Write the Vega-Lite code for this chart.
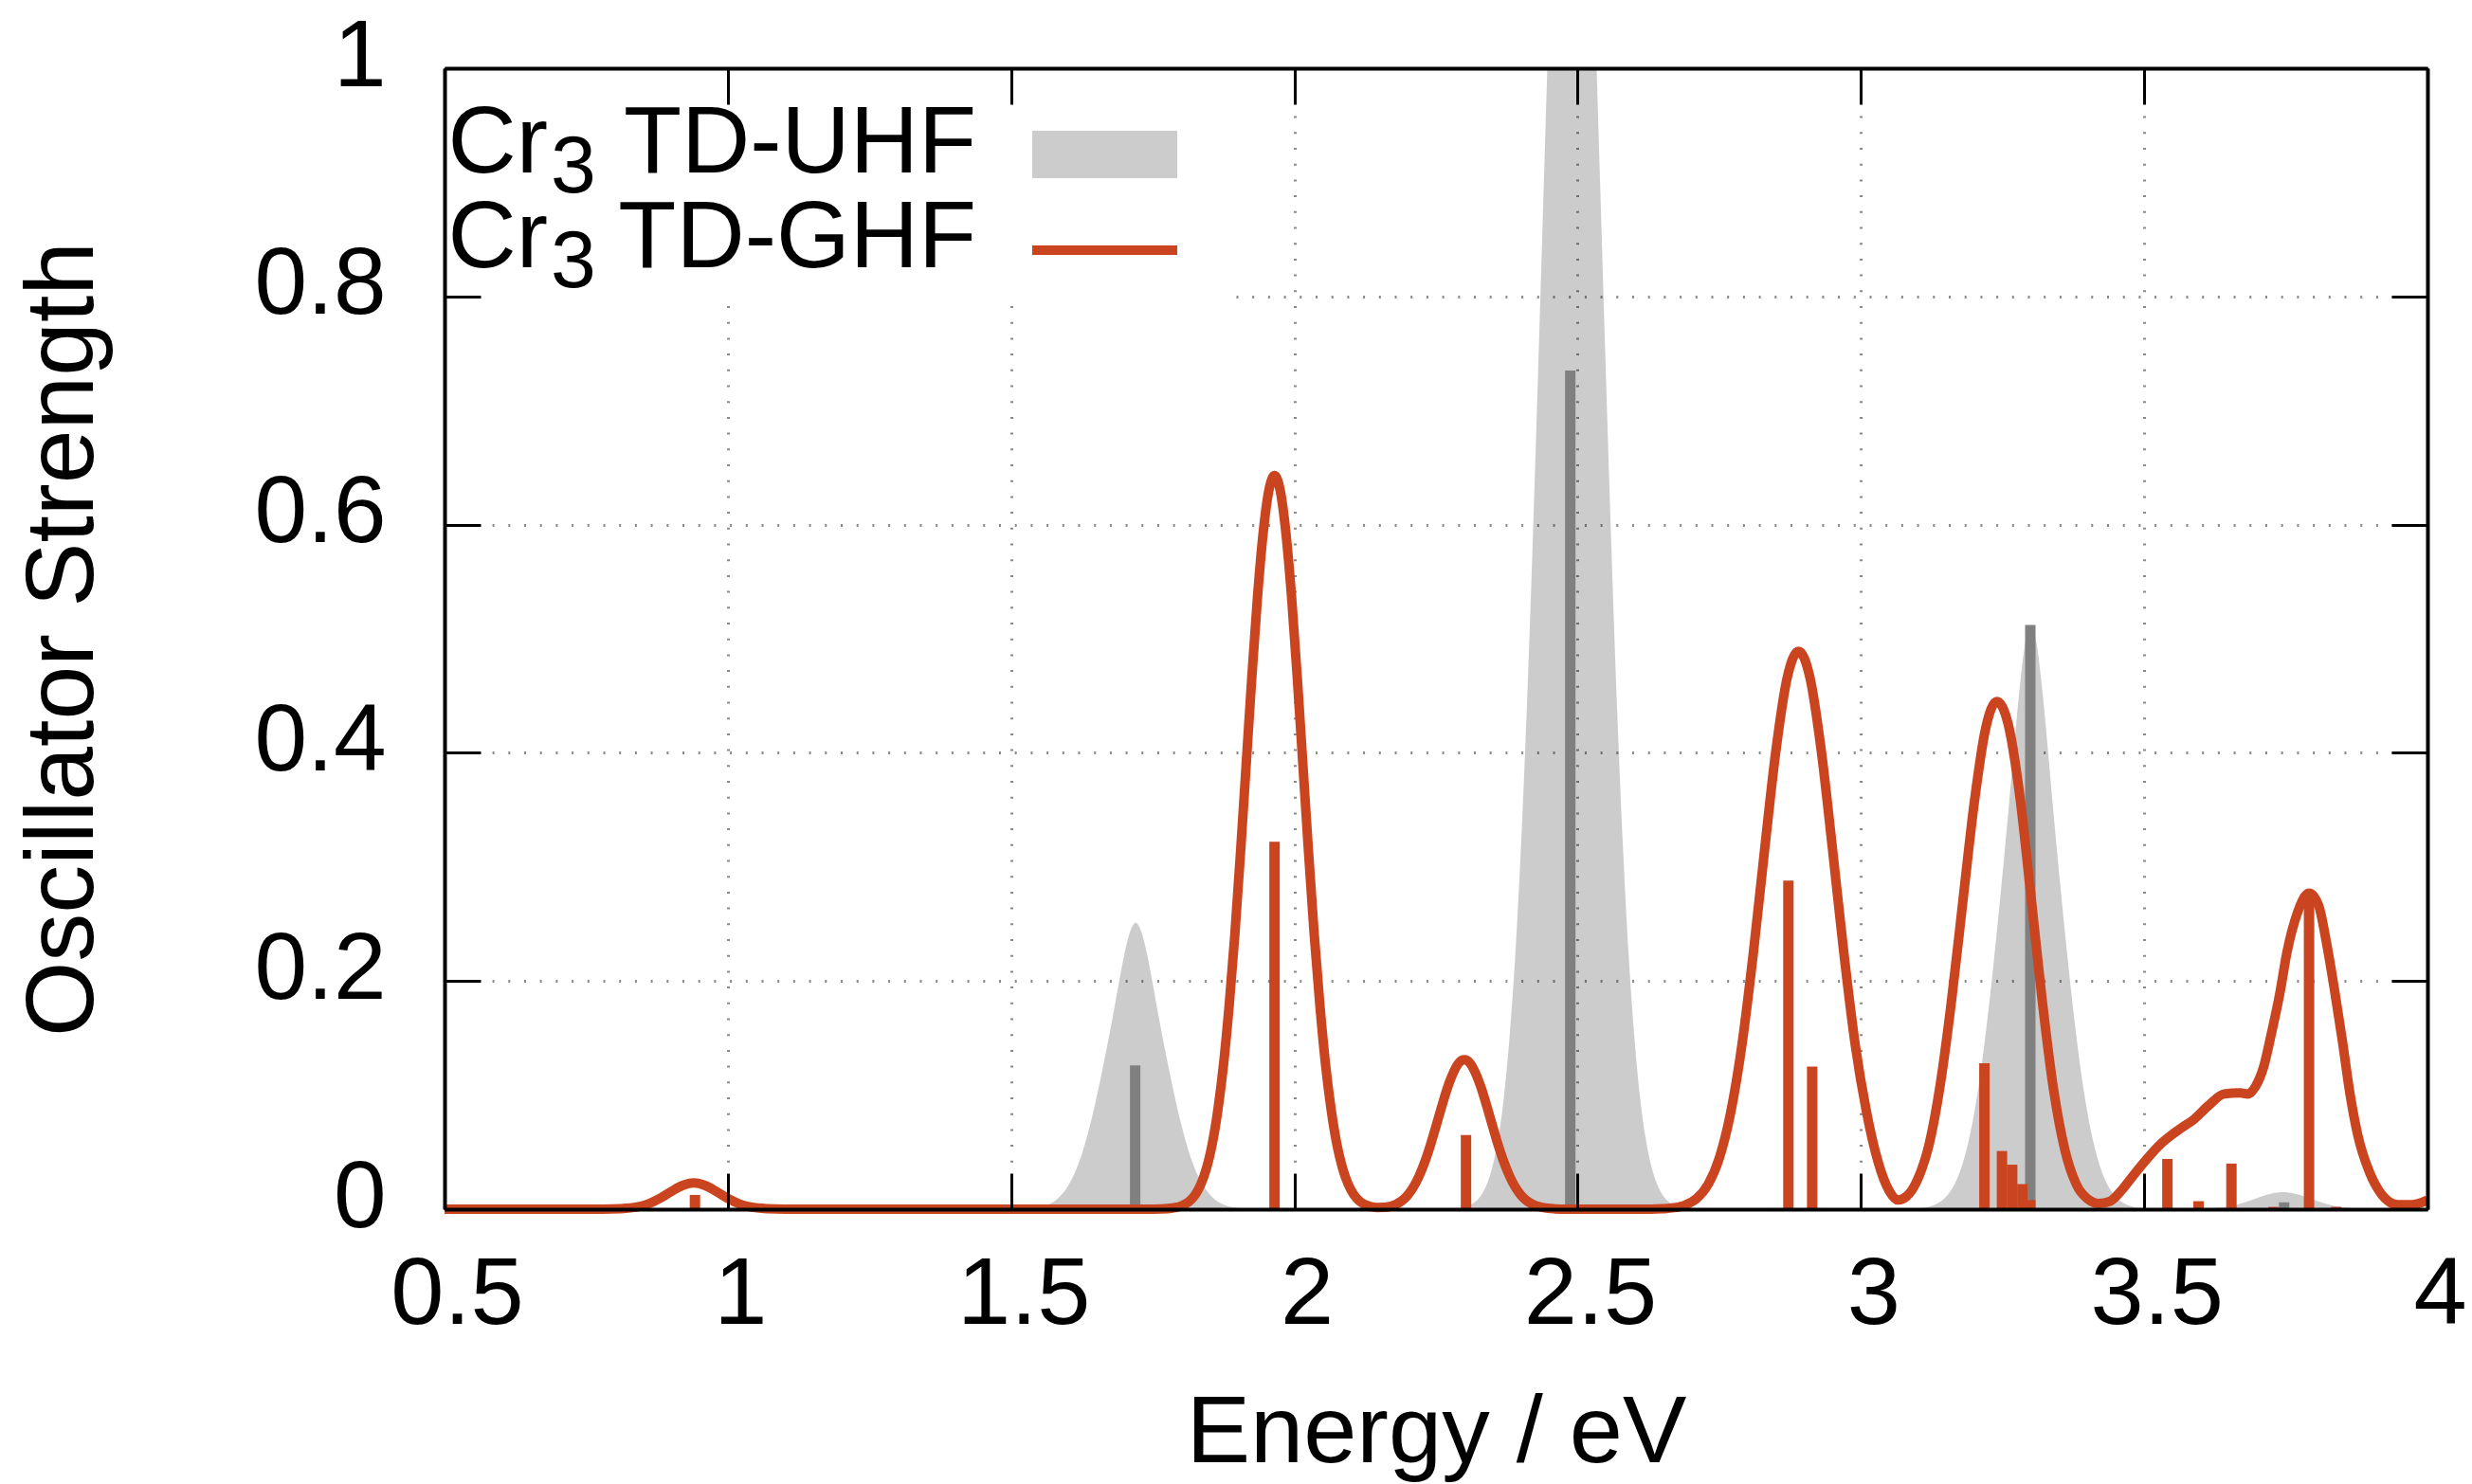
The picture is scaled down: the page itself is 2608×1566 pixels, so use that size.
{
  "$schema": "https://vega.github.io/schema/vega-lite/v6.json",
  "width": 2092,
  "height": 1204,
  "autosize": {"type": "none"},
  "padding": {"left": 469, "top": 72, "right": 47, "bottom": 290},
  "background": "white",
  "config": {"font": "Liberation Sans", "view": {"stroke": null}},
  "datasets": {
    "uhf": [
      {"energy": 0.5, "f": 0}, {"energy": 1.5, "f": 0}, {"energy": 1.52, "f": 0.0003}, {"energy": 1.54, "f": 0.001},
      {"energy": 1.55, "f": 0.0018}, {"energy": 1.56, "f": 0.0031}, {"energy": 1.57, "f": 0.0052}, {"energy": 1.58, "f": 0.0084},
      {"energy": 1.59, "f": 0.0132}, {"energy": 1.6, "f": 0.02}, {"energy": 1.61, "f": 0.0292}, {"energy": 1.62, "f": 0.0413},
      {"energy": 1.63, "f": 0.0565}, {"energy": 1.64, "f": 0.0749}, {"energy": 1.65, "f": 0.0961}, {"energy": 1.66, "f": 0.1194},
      {"energy": 1.67, "f": 0.1441}, {"energy": 1.68, "f": 0.1701}, {"energy": 1.69, "f": 0.1976}, {"energy": 1.7, "f": 0.2235},
      {"energy": 1.71, "f": 0.2431}, {"energy": 1.72, "f": 0.251}, {"energy": 1.73, "f": 0.2431}, {"energy": 1.74, "f": 0.2235},
      {"energy": 1.75, "f": 0.1976}, {"energy": 1.76, "f": 0.1701}, {"energy": 1.77, "f": 0.1441}, {"energy": 1.78, "f": 0.1194},
      {"energy": 1.79, "f": 0.0961}, {"energy": 1.8, "f": 0.0749}, {"energy": 1.81, "f": 0.0565}, {"energy": 1.82, "f": 0.0413},
      {"energy": 1.83, "f": 0.0292}, {"energy": 1.84, "f": 0.02}, {"energy": 1.85, "f": 0.0132}, {"energy": 1.86, "f": 0.0084},
      {"energy": 1.87, "f": 0.0052}, {"energy": 1.88, "f": 0.0031}, {"energy": 1.89, "f": 0.0018}, {"energy": 1.9, "f": 0.001},
      {"energy": 1.92, "f": 0.0003}, {"energy": 1.94, "f": 0},
      {"energy": 2.25, "f": 0}, {"energy": 2.27, "f": 0.0002}, {"energy": 2.29, "f": 0.0009}, {"energy": 2.31, "f": 0.0036},
      {"energy": 2.32, "f": 0.0068}, {"energy": 2.33, "f": 0.0125}, {"energy": 2.34, "f": 0.0222}, {"energy": 2.35, "f": 0.0379},
      {"energy": 2.36, "f": 0.0624}, {"energy": 2.37, "f": 0.0991}, {"energy": 2.38, "f": 0.152}, {"energy": 2.39, "f": 0.2235},
      {"energy": 2.4, "f": 0.318}, {"energy": 2.41, "f": 0.435}, {"energy": 2.42, "f": 0.574}, {"energy": 2.43, "f": 0.73},
      {"energy": 2.44, "f": 0.894}, {"energy": 2.45, "f": 1.056}, {"energy": 2.46, "f": 1.202}, {"energy": 2.47, "f": 1.319},
      {"energy": 2.48, "f": 1.394}, {"energy": 2.49, "f": 1.42}, {"energy": 2.5, "f": 1.394}, {"energy": 2.51, "f": 1.319},
      {"energy": 2.52, "f": 1.202}, {"energy": 2.53, "f": 1.056}, {"energy": 2.54, "f": 0.894}, {"energy": 2.55, "f": 0.73},
      {"energy": 2.56, "f": 0.574}, {"energy": 2.57, "f": 0.435}, {"energy": 2.58, "f": 0.318}, {"energy": 2.59, "f": 0.2235},
      {"energy": 2.6, "f": 0.152}, {"energy": 2.61, "f": 0.0991}, {"energy": 2.62, "f": 0.0624}, {"energy": 2.63, "f": 0.0379},
      {"energy": 2.64, "f": 0.0222}, {"energy": 2.65, "f": 0.0125}, {"energy": 2.66, "f": 0.0068}, {"energy": 2.67, "f": 0.0036},
      {"energy": 2.69, "f": 0.0009}, {"energy": 2.71, "f": 0.0002}, {"energy": 2.73, "f": 0},
      {"energy": 3.06, "f": 0}, {"energy": 3.08, "f": 0.0002}, {"energy": 3.1, "f": 0.0006}, {"energy": 3.12, "f": 0.0021},
      {"energy": 3.13, "f": 0.0037}, {"energy": 3.14, "f": 0.0064}, {"energy": 3.15, "f": 0.0107}, {"energy": 3.16, "f": 0.0172},
      {"energy": 3.17, "f": 0.0269}, {"energy": 3.18, "f": 0.0407}, {"energy": 3.19, "f": 0.0595}, {"energy": 3.2, "f": 0.0843},
      {"energy": 3.21, "f": 0.1153}, {"energy": 3.22, "f": 0.1528}, {"energy": 3.23, "f": 0.196}, {"energy": 3.24, "f": 0.2435},
      {"energy": 3.25, "f": 0.294}, {"energy": 3.26, "f": 0.347}, {"energy": 3.27, "f": 0.403}, {"energy": 3.28, "f": 0.456},
      {"energy": 3.29, "f": 0.496}, {"energy": 3.3, "f": 0.512}, {"energy": 3.31, "f": 0.496}, {"energy": 3.32, "f": 0.456},
      {"energy": 3.33, "f": 0.403}, {"energy": 3.34, "f": 0.347}, {"energy": 3.35, "f": 0.294}, {"energy": 3.36, "f": 0.2435},
      {"energy": 3.37, "f": 0.196}, {"energy": 3.38, "f": 0.1528}, {"energy": 3.39, "f": 0.1153}, {"energy": 3.4, "f": 0.0843},
      {"energy": 3.41, "f": 0.0595}, {"energy": 3.42, "f": 0.0407}, {"energy": 3.43, "f": 0.0269}, {"energy": 3.44, "f": 0.0172},
      {"energy": 3.45, "f": 0.0107}, {"energy": 3.46, "f": 0.0064}, {"energy": 3.47, "f": 0.0037}, {"energy": 3.48, "f": 0.0021},
      {"energy": 3.5, "f": 0.0006}, {"energy": 3.52, "f": 0.0002}, {"energy": 3.54, "f": 0},
      {"energy": 3.58, "f": 0}, {"energy": 3.595, "f": 0.0002}, {"energy": 3.625, "f": 0.0008},
      {"energy": 3.645, "f": 0.002}, {"energy": 3.665, "f": 0.0042}, {"energy": 3.685, "f": 0.0073}, {"energy": 3.705, "f": 0.0109},
      {"energy": 3.725, "f": 0.0138}, {"energy": 3.745, "f": 0.015}, {"energy": 3.765, "f": 0.0138}, {"energy": 3.785, "f": 0.0109},
      {"energy": 3.805, "f": 0.0073}, {"energy": 3.825, "f": 0.0042}, {"energy": 3.845, "f": 0.002}, {"energy": 3.865, "f": 0.0008},
      {"energy": 3.895, "f": 0.0002}, {"energy": 3.92, "f": 0}, {"energy": 4.0, "f": 0}
    ],
    "ghf": [
      {"energy": 0.5, "f": 0}, {"energy": 0.78, "f": 0}, {"energy": 0.81, "f": 0.0004}, {"energy": 0.84, "f": 0.0019},
      {"energy": 0.86, "f": 0.0047}, {"energy": 0.88, "f": 0.0095}, {"energy": 0.9, "f": 0.0155}, {"energy": 0.92, "f": 0.0208},
      {"energy": 0.94, "f": 0.023}, {"energy": 0.96, "f": 0.0208}, {"energy": 0.98, "f": 0.0155}, {"energy": 1.0, "f": 0.0095},
      {"energy": 1.02, "f": 0.0047}, {"energy": 1.04, "f": 0.0019}, {"energy": 1.07, "f": 0.0004}, {"energy": 1.1, "f": 0},
      {"energy": 1.74, "f": 0}, {"energy": 1.765, "f": 0.0002}, {"energy": 1.785, "f": 0.001}, {"energy": 1.805, "f": 0.0039},
      {"energy": 1.815, "f": 0.0071}, {"energy": 1.825, "f": 0.0127}, {"energy": 1.835, "f": 0.0219}, {"energy": 1.845, "f": 0.036},
      {"energy": 1.855, "f": 0.057}, {"energy": 1.865, "f": 0.087}, {"energy": 1.875, "f": 0.127}, {"energy": 1.885, "f": 0.179},
      {"energy": 1.895, "f": 0.241}, {"energy": 1.905, "f": 0.313}, {"energy": 1.915, "f": 0.39}, {"energy": 1.925, "f": 0.467},
      {"energy": 1.935, "f": 0.537}, {"energy": 1.945, "f": 0.593}, {"energy": 1.955, "f": 0.63}, {"energy": 1.965, "f": 0.643},
      {"energy": 1.975, "f": 0.63}, {"energy": 1.985, "f": 0.593}, {"energy": 1.995, "f": 0.537}, {"energy": 2.005, "f": 0.467},
      {"energy": 2.015, "f": 0.39}, {"energy": 2.025, "f": 0.313}, {"energy": 2.035, "f": 0.241}, {"energy": 2.045, "f": 0.179},
      {"energy": 2.055, "f": 0.127}, {"energy": 2.065, "f": 0.087}, {"energy": 2.075, "f": 0.057}, {"energy": 2.085, "f": 0.036},
      {"energy": 2.095, "f": 0.0219}, {"energy": 2.105, "f": 0.0127}, {"energy": 2.115, "f": 0.0071}, {"energy": 2.125, "f": 0.004},
      {"energy": 2.145, "f": 0.0015}, {"energy": 2.16, "f": 0.0016}, {"energy": 2.18, "f": 0.0044}, {"energy": 2.19, "f": 0.0075},
      {"energy": 2.2, "f": 0.0123}, {"energy": 2.21, "f": 0.0193}, {"energy": 2.22, "f": 0.0289}, {"energy": 2.23, "f": 0.0411},
      {"energy": 2.24, "f": 0.0559}, {"energy": 2.25, "f": 0.0726}, {"energy": 2.26, "f": 0.0898}, {"energy": 2.27, "f": 0.106},
      {"energy": 2.28, "f": 0.119}, {"energy": 2.29, "f": 0.128}, {"energy": 2.3, "f": 0.131}, {"energy": 2.31, "f": 0.128},
      {"energy": 2.32, "f": 0.119}, {"energy": 2.33, "f": 0.106}, {"energy": 2.34, "f": 0.0898}, {"energy": 2.35, "f": 0.0726},
      {"energy": 2.36, "f": 0.0559}, {"energy": 2.37, "f": 0.0411}, {"energy": 2.38, "f": 0.0289}, {"energy": 2.39, "f": 0.0193},
      {"energy": 2.4, "f": 0.0123}, {"energy": 2.41, "f": 0.0075}, {"energy": 2.42, "f": 0.0044}, {"energy": 2.44, "f": 0.0013},
      {"energy": 2.46, "f": 0.0003}, {"energy": 2.48, "f": 0}, {"energy": 2.63, "f": 0}, {"energy": 2.65, "f": 0.0004},
      {"energy": 2.67, "f": 0.0013}, {"energy": 2.69, "f": 0.0037}, {"energy": 2.71, "f": 0.0094}, {"energy": 2.73, "f": 0.0215},
      {"energy": 2.75, "f": 0.0447}, {"energy": 2.77, "f": 0.0843}, {"energy": 2.79, "f": 0.144}, {"energy": 2.81, "f": 0.224},
      {"energy": 2.83, "f": 0.315}, {"energy": 2.85, "f": 0.402}, {"energy": 2.87, "f": 0.466}, {"energy": 2.89, "f": 0.489},
      {"energy": 2.91, "f": 0.466}, {"energy": 2.93, "f": 0.402}, {"energy": 2.95, "f": 0.315}, {"energy": 2.97, "f": 0.224},
      {"energy": 2.99, "f": 0.144}, {"energy": 3.01, "f": 0.085}, {"energy": 3.03, "f": 0.042}, {"energy": 3.05, "f": 0.016},
      {"energy": 3.065, "f": 0.008}, {"energy": 3.08, "f": 0.011}, {"energy": 3.1, "f": 0.026}, {"energy": 3.12, "f": 0.056},
      {"energy": 3.14, "f": 0.109}, {"energy": 3.16, "f": 0.183}, {"energy": 3.18, "f": 0.27}, {"energy": 3.2, "f": 0.356},
      {"energy": 3.22, "f": 0.421}, {"energy": 3.24, "f": 0.445}, {"energy": 3.26, "f": 0.425}, {"energy": 3.28, "f": 0.364},
      {"energy": 3.3, "f": 0.275}, {"energy": 3.32, "f": 0.183}, {"energy": 3.34, "f": 0.105}, {"energy": 3.36, "f": 0.052},
      {"energy": 3.38, "f": 0.022}, {"energy": 3.4, "f": 0.009}, {"energy": 3.42, "f": 0.005}, {"energy": 3.44, "f": 0.007},
      {"energy": 3.461, "f": 0.017}, {"energy": 3.48, "f": 0.029}, {"energy": 3.503, "f": 0.043}, {"energy": 3.531, "f": 0.058},
      {"energy": 3.565, "f": 0.071}, {"energy": 3.586, "f": 0.078}, {"energy": 3.614, "f": 0.091}, {"energy": 3.641, "f": 0.101},
      {"energy": 3.669, "f": 0.102}, {"energy": 3.683, "f": 0.101}, {"energy": 3.697, "f": 0.108}, {"energy": 3.711, "f": 0.125},
      {"energy": 3.725, "f": 0.155}, {"energy": 3.739, "f": 0.188}, {"energy": 3.752, "f": 0.225}, {"energy": 3.77, "f": 0.259},
      {"energy": 3.791, "f": 0.277}, {"energy": 3.808, "f": 0.266}, {"energy": 3.822, "f": 0.233}, {"energy": 3.836, "f": 0.192},
      {"energy": 3.85, "f": 0.147}, {"energy": 3.863, "f": 0.102}, {"energy": 3.877, "f": 0.065}, {"energy": 3.898, "f": 0.032},
      {"energy": 3.919, "f": 0.013}, {"energy": 3.947, "f": 0.004}, {"energy": 3.974, "f": 0.004}, {"energy": 4.0, "f": 0.008}
    ],
    "uhf_sticks": [
      {"energy": 1.719, "f": 0.126}, {"energy": 2.487, "f": 0.735}, {"energy": 3.299, "f": 0.512}, {"energy": 3.747, "f": 0.006}
    ],
    "ghf_sticks": [
      {"energy": 0.942, "f": 0.0125}, {"energy": 1.965, "f": 0.322}, {"energy": 2.303, "f": 0.065},
      {"energy": 2.872, "f": 0.288}, {"energy": 2.914, "f": 0.125}, {"energy": 3.218, "f": 0.128},
      {"energy": 3.249, "f": 0.051}, {"energy": 3.267, "f": 0.039}, {"energy": 3.285, "f": 0.022},
      {"energy": 3.299, "f": 0.008}, {"energy": 3.541, "f": 0.044}, {"energy": 3.596, "f": 0.007},
      {"energy": 3.654, "f": 0.04}, {"energy": 3.728, "f": 0.002}, {"energy": 3.791, "f": 0.277},
      {"energy": 3.839, "f": 0.002}
    ]
  },
  "layer": [
    {
      "data": {"name": "uhf"},
      "mark": {"type": "area", "interpolate": "monotone", "fill": "black", "fillOpacity": 0.2, "clip": true},
      "encoding": {
        "x": {"field": "energy", "type": "quantitative", "scale": {"domain": [0.5, 4], "nice": false, "zero": false},
          "axis": {"grid": true, "gridColor": "#8a8a8a", "gridDash": [2, 14.7], "gridWidth": 3, "values": [1, 1.5, 2, 2.5, 3, 3.5], "labels": false, "ticks": false, "domain": false, "title": null, "zindex": 0}},
        "y": {"field": "f", "type": "quantitative", "scale": {"domain": [0, 1], "nice": false, "zero": true},
          "axis": {"grid": true, "gridColor": "#8a8a8a", "gridDash": [2, 14.7], "gridWidth": 3, "values": [0.2, 0.4, 0.6, 0.8], "labels": false, "ticks": false, "domain": false, "title": null, "zindex": 0}}
      }
    },
    {
      "data": {"name": "uhf_sticks"},
      "mark": {"type": "rule", "color": "#808080", "strokeWidth": 11},
      "encoding": {
        "x": {"field": "energy", "type": "quantitative", "axis": null},
        "y": {"field": "f", "type": "quantitative", "axis": null},
        "y2": {"datum": 0}
      }
    },
    {
      "data": {"values": [{}]},
      "mark": {"type": "rect", "fill": "white"},
      "encoding": {
        "x": {"datum": 0.5, "type": "quantitative",
          "axis": {"orient": "top", "values": [0.5, 1, 1.5, 2, 2.5, 3, 3.5, 4], "labels": false, "title": null, "grid": false, "domainColor": "black", "domainWidth": 4, "tickColor": "black", "tickWidth": 3, "tickSize": -38, "zindex": 1}},
        "x2": {"datum": 1.89},
        "y": {"datum": 0.793, "type": "quantitative",
          "axis": {"orient": "right", "values": [0, 0.2, 0.4, 0.6, 0.8, 1], "labels": false, "title": null, "grid": false, "domainColor": "black", "domainWidth": 4, "tickColor": "black", "tickWidth": 3, "tickSize": -38, "zindex": 1}},
        "y2": {"datum": 0.962}
      }
    },
    {
      "data": {"name": "ghf_sticks"},
      "mark": {"type": "rule", "color": "#c9441f", "strokeWidth": 11},
      "encoding": {
        "x": {"field": "energy", "type": "quantitative", "axis": null},
        "y": {"field": "f", "type": "quantitative", "axis": null},
        "y2": {"datum": 0}
      }
    },
    {
      "data": {"name": "ghf"},
      "mark": {"type": "line", "interpolate": "monotone", "color": "#c9441f", "strokeWidth": 10},
      "encoding": {
        "x": {"field": "energy", "type": "quantitative",
          "axis": {"orient": "bottom", "values": [0.5, 1, 1.5, 2, 2.5, 3, 3.5, 4], "format": "~g", "grid": false, "domainColor": "black", "domainWidth": 4, "tickColor": "black", "tickWidth": 3, "tickSize": -38, "labelFontSize": 101, "labelColor": "black", "labelPadding": 158, "labelOffset": 13, "labelBaseline": "alphabetic", "labelFlush": false, "labelOverlap": false, "title": "Energy / eV", "titleFontSize": 101, "titleFontWeight": "normal", "titleColor": "black", "titleX": 1046, "titleY": 266, "titleBaseline": "alphabetic", "titleAlign": "center", "zindex": 1}},
        "y": {"field": "f", "type": "quantitative",
          "axis": {"orient": "left", "values": [0, 0.2, 0.4, 0.6, 0.8, 1], "format": "~g", "grid": false, "domainColor": "black", "domainWidth": 4, "tickColor": "black", "tickWidth": 3, "tickSize": -38, "labelFontSize": 100, "labelColor": "black", "labelPadding": 100, "labelOffset": -12, "labelBaseline": "middle", "labelFlush": false, "labelOverlap": false, "title": "Oscillator Strength", "titleFontSize": 102, "titleFontWeight": "normal", "titleColor": "black", "titleX": -372, "titleY": 602, "titleAngle": -90, "titleBaseline": "alphabetic", "titleAlign": "center", "zindex": 1}}
      }
    },
    {
      "data": {"values": [{}]},
      "mark": {"type": "rect", "fill": "black", "fillOpacity": 0.2},
      "encoding": {
        "x": {"datum": 1.5373, "type": "quantitative", "axis": null}, "x2": {"datum": 1.7933},
        "y": {"datum": 0.9037, "type": "quantitative", "axis": null}, "y2": {"datum": 0.9452}
      }
    },
    {
      "data": {"values": [{}]},
      "mark": {"type": "rule", "color": "#c9441f", "strokeWidth": 10},
      "encoding": {
        "x": {"datum": 1.5373, "type": "quantitative", "axis": null}, "x2": {"datum": 1.7933},
        "y": {"datum": 0.8405, "type": "quantitative", "axis": null}
      }
    },
    {
      "data": {"values": [{}]},
      "mark": {"type": "text", "text": ["Cr", "Cr"], "lineHeight": 100, "fontSize": 100, "align": "left", "baseline": "alphabetic", "color": "black"},
      "encoding": {"x": {"datum": 0.506, "type": "quantitative", "axis": null}, "y": {"datum": 0.9086, "type": "quantitative", "axis": null}}
    },
    {
      "data": {"values": [{}]},
      "mark": {"type": "text", "text": ["3", "3"], "lineHeight": 100, "fontSize": 86, "align": "left", "baseline": "alphabetic", "color": "black"},
      "encoding": {"x": {"datum": 0.6874, "type": "quantitative", "axis": null}, "y": {"datum": 0.8912, "type": "quantitative", "axis": null}}
    },
    {
      "data": {"values": [{}]},
      "mark": {"type": "text", "text": ["TD-UHF", "TD-GHF"], "lineHeight": 100, "fontSize": 100, "align": "right", "baseline": "alphabetic", "color": "black"},
      "encoding": {"x": {"datum": 1.4386, "type": "quantitative", "axis": null}, "y": {"datum": 0.9086, "type": "quantitative", "axis": null}}
    }
  ],
  "resolve": {"axis": {"x": "independent", "y": "independent"}}
}
